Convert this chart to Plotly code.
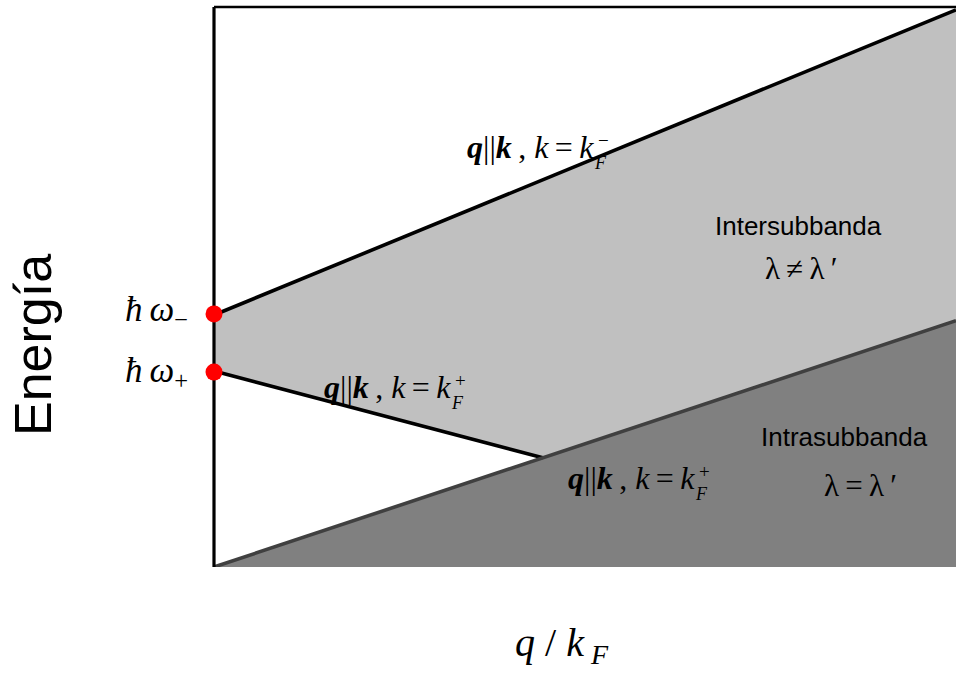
import plotly.graph_objects as go

# ---- data (q/kF on x, energy on y, arbitrary units) ----
q_edge = [0.0, 2.0]            # q/kF range covered by the straight edges
E_upper = [0.90, 1.99]         # q || k, k = kF-  (upper intersubband edge)
E_intra = [0.0, 0.88]          # intrasubband edge
q_lower = [0.0, 0.886]         # q || k, k = kF+  (lower intersubband edge)
E_lower = [0.70, 0.39]
hw_levels = [0.904, 0.696]     # hbar*omega_-, hbar*omega_+
E_top = 2.0

# ---- page geometry ----
W, H = 956, 673
X0_PX, Y0_PX = 214, 567        # pixel of (q=0, E=0)
PX_PER_Q = (956 - 214) / q_edge[1]
PX_PER_E = (567 - 7) / E_top
ML, MB = 204, H - 567
PLOT_W, PLOT_H = W - ML, H - MB


def dx(px):
    return (px - X0_PX) / PX_PER_Q


def dy(py):
    return (Y0_PX - py) / PX_PER_E


def paper_x(px):
    return (px - ML) / PLOT_W


def paper_y(py):
    return (PLOT_H - py) / PLOT_H


fig = go.Figure()

# intersubband continuum (light grey)
fig.add_trace(go.Scatter(
    x=[q_edge[0], q_edge[1], q_edge[1], q_lower[1], q_lower[0]],
    y=[E_upper[0], E_upper[1], E_intra[1], E_lower[1], E_lower[0]],
    fill="toself", fillcolor="#c0c0c0", line=dict(width=0),
    mode="lines", hoverinfo="skip"))

# intrasubband continuum (dark grey)
fig.add_trace(go.Scatter(
    x=[q_edge[0], q_edge[1], q_edge[1]],
    y=[E_intra[0], E_intra[1], 0.0],
    fill="toself", fillcolor="#808080", line=dict(width=0),
    mode="lines", hoverinfo="skip"))

# boundary lines
fig.add_trace(go.Scatter(x=q_edge, y=E_upper, mode="lines",
                         line=dict(color="black", width=3.6)))
fig.add_trace(go.Scatter(x=q_lower, y=E_lower, mode="lines",
                         line=dict(color="black", width=3.6)))
fig.add_trace(go.Scatter(x=q_edge, y=E_intra, mode="lines",
                         line=dict(color="#404040", width=3.6)))

# frame: energy axis and top edge
fig.add_trace(go.Scatter(x=[0, 0], y=[0, E_top], mode="lines",
                         line=dict(color="black", width=3.2)))
fig.add_trace(go.Scatter(x=[0, q_edge[1]], y=[E_top, E_top], mode="lines",
                         line=dict(color="black", width=2.6)))

# threshold energies
fig.add_trace(go.Scatter(x=[0, 0], y=hw_levels, mode="markers",
                         marker=dict(color="red", size=17, line=dict(width=0)),
                         cliponaxis=False))

SERIF = "Liberation Serif"
SANS = "Liberation Sans"
TS = "\u2009"  # thin space
ann = []


def label(px, py, text, size, font=SERIF, xanchor="center", angle=0):
    ann.append(dict(x=paper_x(px), y=paper_y(py), xref="paper", yref="paper",
                    text=text, showarrow=False, xanchor=xanchor, yanchor="middle",
                    textangle=angle,
                    font=dict(family=font, size=size, color="black")))


def kf_label(x_end, base, sign):
    main = ("<b><i>q</i></b>||<b><i>k</i></b>" + TS + ", "
            + "<i>k</i>" + TS + "=" + TS + "<i>k</i>")
    label(x_end, base - 10, main, 32, xanchor="right")
    label(x_end, base - 17, sign, 19, xanchor="left")
    label(x_end - 4, base + 6, "<i>F</i>", 18, xanchor="left")


kf_label(596, 157, "\u2212")
kf_label(453, 397, "+")
kf_label(697, 488, "+")

label(798, 226, "Intersubbanda", 26, font=SANS)
label(801, 268, "\u03bb" + TS + "\u2260" + TS + "\u03bb" + TS + "\u2032", 31)
label(844, 437, "Intrasubbanda", 26, font=SANS)
label(860, 485, "\u03bb" + TS + "=" + TS + "\u03bb" + TS + "\u2032", 31)

label(190, 311, "<i>\u0127" + TS + "\u03c9</i><sub>\u2212</sub>", 35, xanchor="right")
label(190, 372, "<i>\u0127" + TS + "\u03c9</i><sub>+</sub>", 35, xanchor="right")

label(33, 345, "Energía", 52, font=SANS, angle=-90)
label(562, 645, "<i>q</i> / <i>k</i><sub> <i>F</i></sub>", 40)

fig.update_layout(
    width=W, height=H,
    margin=dict(l=ML, r=0, t=0, b=MB),
    paper_bgcolor="white", plot_bgcolor="white",
    showlegend=False,
    annotations=ann,
    xaxis=dict(range=[dx(ML), q_edge[1]], visible=False, fixedrange=True),
    yaxis=dict(range=[0, dy(0)], visible=False, fixedrange=True),
)

fig.write_html("out.html")
